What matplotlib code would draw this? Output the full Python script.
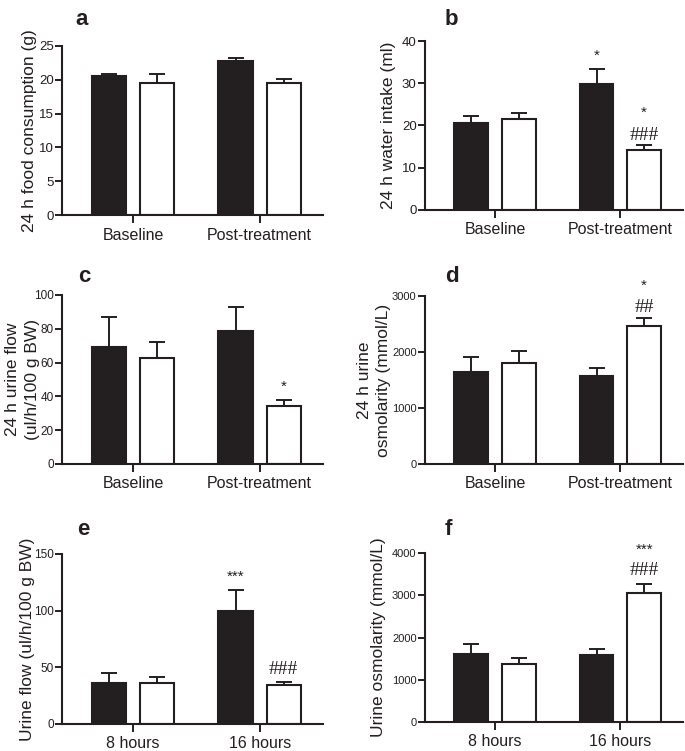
"""Grouped bar panels (a-f) with upward SEM bars and significance marks."""

import matplotlib
matplotlib.use('Agg')
import matplotlib.pyplot as plt

plt.rcParams['font.family'] = ['Liberation Sans', 'DejaVu Sans']

INK = '#231f20'
FIG_W, FIG_H = 685, 751

GROUPS_24H = ['Baseline', 'Post-treatment']
GROUPS_TIME = ['8 hours', '16 hours']

# per panel: [black, white] means and SEM per group
FOOD_MEAN = [[20.5, 19.5], [22.8, 19.5]]
FOOD_SEM = [[0.4, 1.3], [0.4, 0.6]]

WATER_MEAN = [[20.5, 21.5], [29.9, 14.2]]
WATER_SEM = [[1.8, 1.4], [3.4, 1.1]]

FLOW24_MEAN = [[69.5, 62.6], [78.7, 34.6]]
FLOW24_SEM = [[17.7, 9.8], [14.4, 3.2]]

OSM24_MEAN = [[1640, 1800], [1580, 2472]]
OSM24_SEM = [[267, 226], [131, 136]]

FLOW_MEAN = [[36.2, 36.5], [99.6, 34.5]]
FLOW_SEM = [[8.9, 5.3], [18.6, 2.9]]

OSM_MEAN = [[1609, 1365], [1578, 3053]]
OSM_SEM = [[229, 150], [142, 213]]

# (group, bar, text, y value)
MARKS_B = [(1, 0, '*', 36.5), (1, 1, '*', 23.0), (1, 1, '###', 17.6)]
MARKS_C = [(1, 1, '*', 45.5)]
MARKS_D = [(1, 1, '*', 3180), (1, 1, '##', 2800)]
MARKS_E = [(1, 0, '***', 130), (1, 1, '###', 48)]
MARKS_F = [(1, 1, '***', 4080), (1, 1, '###', 3580)]

PANELS = [
    # label, box (left, top, right, bottom) px, groups, mean, sem, ymax, step,
    # ylabel, label x (axes fraction), marks, letter position px, ytick size
    ('a', (62, 46, 323, 215), GROUPS_24H, FOOD_MEAN, FOOD_SEM, 25, 5,
     '24 h food consumption (g)', -0.096, [], (75, 25), 9.5),
    ('b', (425, 41, 683, 210), GROUPS_24H, WATER_MEAN, WATER_SEM, 40, 10,
     '24 h water intake (ml)', -0.111, MARKS_B, (445, 25), 9.5),
    ('c', (62, 295, 323, 464), GROUPS_24H, FLOW24_MEAN, FLOW24_SEM, 100, 20,
     '24 h urine flow\n(ul/h/100 g BW)', -0.086, MARKS_C, (78, 282), 8.5),
    ('d', (425, 296, 683, 464), GROUPS_24H, OSM24_MEAN, OSM24_SEM, 3000, 1000,
     '24 h urine\nosmolarity (mmol/L)', -0.13, MARKS_D, (445, 282), 8),
    ('e', (62, 554, 323, 724), GROUPS_TIME, FLOW_MEAN, FLOW_SEM, 150, 50,
     'Urine flow (ul/h/100 g BW)', -0.104, MARKS_E, (77, 535), 8.5),
    ('f', (425, 553, 683, 722), GROUPS_TIME, OSM_MEAN, OSM_SEM, 4000, 1000,
     'Urine osmolarity (mmol/L)', -0.15, MARKS_F, (445, 535), 8),
]

OFFSETS = [-0.19, 0.19]
WIDTH = 0.27
FILLS = [INK, 'white']


def draw_panel(fig, panel):
    (label, box, groups, means, sems, ymax, step, ylabel, lab_x, marks,
     letter_xy, ytick_size) = panel
    left, top, right, bottom = box
    ax = fig.add_axes([left / FIG_W, 1 - bottom / FIG_H,
                       (right - left) / FIG_W, (bottom - top) / FIG_H])

    for gi in range(len(groups)):
        for bi in range(2):
            x = gi + OFFSETS[bi]
            ax.bar(x, means[gi][bi], width=WIDTH, color=FILLS[bi],
                   edgecolor=INK, linewidth=1.5, zorder=2)
            ax.errorbar(x, means[gi][bi], yerr=[[0], [sems[gi][bi]]],
                        fmt='none', ecolor=INK, elinewidth=1.4, capsize=6,
                        capthick=1.4, zorder=3)

    for gi, bi, txt, yv in marks:
        if txt.startswith('#'):
            ax.text(gi + OFFSETS[bi], yv, txt, ha='center', va='center',
                    fontsize=14, color=INK,
                    family=['Liberation Serif', 'DejaVu Serif'])
        else:
            ax.text(gi + OFFSETS[bi], yv, txt, ha='center', va='center',
                    fontsize=11, color=INK)

    ax.set_xlim(-0.56, 1.5)
    ax.set_ylim(0, ymax)
    ax.set_yticks(range(0, ymax + 1, step))
    ax.set_xticks(range(len(groups)))
    ax.set_xticklabels(groups, fontsize=11.5, color=INK)
    ax.tick_params(axis='y', labelsize=ytick_size,
                   colors=INK, length=5, width=1.4, pad=1)
    ax.tick_params(axis='x', length=6, width=1.4, colors=INK, pad=3)

    for side in ('top', 'right'):
        ax.spines[side].set_visible(False)
    for side in ('left', 'bottom'):
        ax.spines[side].set_linewidth(1.5)
        ax.spines[side].set_color(INK)

    ax.set_ylabel(ylabel, fontsize=12.5, color=INK, linespacing=1.35)
    ax.yaxis.set_label_coords(lab_x, 0.5)

    fig.text(letter_xy[0] / FIG_W, 1 - letter_xy[1] / FIG_H, label,
             fontsize=16, fontweight='bold', color=INK, ha='left', va='baseline')


def main():
    fig = plt.figure(figsize=(FIG_W / 100, FIG_H / 100), dpi=100)
    for panel in PANELS:
        draw_panel(fig, panel)
    fig.savefig('out.png', dpi=100)
    plt.close(fig)


if __name__ == '__main__':
    main()
